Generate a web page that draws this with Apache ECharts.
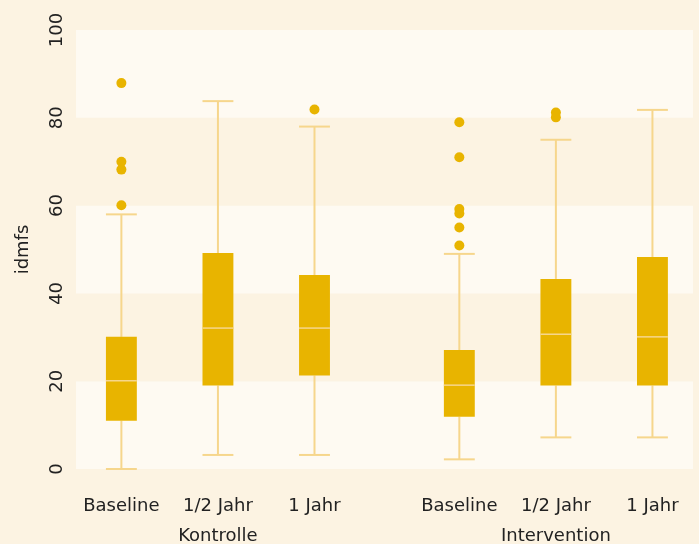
<html>
    <head>
        <meta charset="utf-8">
        <script src="https://cdn.jsdelivr.net/npm/echarts@6/dist/echarts.min.js" type="text/javascript" charset="utf-8"></script>
    </head>
    <body style="margin:0;background:#fcf3e2;">
        <style>
            .chart {
                width: 699px;
                height: 544px;
            }
        </style>

        <div id="main" class="chart"></div>
        <script>
            // x positions of the boxes (gap between the two groups)
            var positions = [1, 2, 3, 4.5, 5.5, 6.5];
            var timeLabels = ['Baseline', '1/2 Jahr', '1 Jahr', 'Baseline', '1/2 Jahr', '1 Jahr'];
            var groupPositions = [2, 5.5];
            var groupLabels = ['Kontrolle', 'Intervention'];

            // five-number summaries
            var lowWhisker = [0, 3.2, 3.2, 2.2, 7.2, 7.2];
            var q1 = [11.0, 19.0, 21.3, 11.9, 19.0, 19.0];
            var median = [20.1, 32.1, 32.1, 19.1, 30.7, 30.1];
            var q3 = [30.1, 49.2, 44.2, 27.1, 43.3, 48.3];
            var highWhisker = [58.0, 83.8, 78.0, 49.0, 75.0, 81.8];

            var outliers = [
                [1, 87.9], [1, 70.0], [1, 68.2], [1, 60.1],
                [3, 81.9],
                [4.5, 79.0], [4.5, 71.0], [4.5, 59.2], [4.5, 58.2], [4.5, 55.0], [4.5, 50.9],
                [5.5, 81.2], [5.5, 80.1]
            ];

            var yTicks = [0, 20, 40, 60, 80, 100];

            var BOX = '#e8b400';
            var LIGHT = '#f6d68c';
            var FONT = 'DejaVu Sans';

            var boxData = positions.map(function (p, i) {
                return [p, lowWhisker[i], q1[i], median[i], q3[i], highWhisker[i]];
            });

            function renderBox(params, api) {
                var x = api.value(0);
                var pMin = api.coord([x, api.value(1)]);
                var pQ1 = api.coord([x, api.value(2)]);
                var pMed = api.coord([x, api.value(3)]);
                var pQ3 = api.coord([x, api.value(4)]);
                var pMax = api.coord([x, api.value(5)]);
                var half = api.size([0.32, 0])[0] / 2;
                var cx = pMed[0];
                var line = { stroke: LIGHT, lineWidth: 2 };
                return {
                    type: 'group',
                    children: [
                        { type: 'line', shape: { x1: cx, y1: pMin[1], x2: cx, y2: pQ1[1] }, style: line },
                        { type: 'line', shape: { x1: cx, y1: pQ3[1], x2: cx, y2: pMax[1] }, style: line },
                        { type: 'line', shape: { x1: cx - half, y1: pMin[1], x2: cx + half, y2: pMin[1] }, style: line },
                        { type: 'line', shape: { x1: cx - half, y1: pMax[1], x2: cx + half, y2: pMax[1] }, style: line },
                        { type: 'rect', shape: { x: cx - half, y: pQ3[1], width: half * 2, height: pQ1[1] - pQ3[1] }, style: { fill: BOX } },
                        { type: 'line', shape: { x1: cx - half, y1: pMed[1], x2: cx + half, y2: pMed[1] }, style: { stroke: LIGHT, lineWidth: 1.5 } }
                    ]
                };
            }

            var chart = echarts.init(document.getElementById('main'));

            chart.setOption({
                animation: false,
                backgroundColor: '#fcf3e2',
                grid: { left: 76, right: 6, top: 30, bottom: 75, outerBoundsMode: 'none' },
                xAxis: [{
                    type: 'value',
                    min: 0.53,
                    max: 6.92,
                    axisLine: { show: false },
                    axisTick: { show: false },
                    splitLine: { show: false },
                    axisLabel: {
                        customValues: positions,
                        margin: 28,
                        fontFamily: FONT,
                        fontSize: 18,
                        color: '#222',
                        formatter: function (v) {
                            return timeLabels[positions.indexOf(v)];
                        }
                    }
                }, {
                    type: 'value',
                    position: 'bottom',
                    min: 0.53,
                    max: 6.92,
                    axisLine: { show: false },
                    axisTick: { show: false },
                    splitLine: { show: false },
                    axisLabel: {
                        customValues: groupPositions,
                        margin: 58,
                        fontFamily: FONT,
                        fontSize: 18,
                        color: '#222',
                        formatter: function (v) {
                            return groupLabels[groupPositions.indexOf(v)];
                        }
                    }
                }],
                yAxis: {
                    type: 'value',
                    min: yTicks[0],
                    max: yTicks[yTicks.length - 1],
                    interval: 20,
                    name: 'idmfs',
                    nameLocation: 'middle',
                    nameGap: 44,
                    nameTextStyle: { fontFamily: FONT, fontSize: 18, color: '#222' },
                    axisLine: { show: false },
                    axisTick: { show: false },
                    splitLine: { show: false },
                    splitArea: {
                        show: true,
                        areaStyle: { color: ['#fefaf2', '#fcf3e2'] }
                    },
                    axisLabel: {
                        rotate: 90,
                        margin: 10,
                        fontFamily: FONT,
                        fontSize: 18,
                        color: '#222'
                    }
                },
                series: [{
                    type: 'custom',
                    renderItem: renderBox,
                    encode: { x: 0, y: [1, 2, 3, 4, 5] },
                    data: boxData
                }, {
                    type: 'scatter',
                    symbolSize: 10,
                    itemStyle: { color: BOX, opacity: 1 },
                    data: outliers
                }]
            });
        </script>
    </body>
</html>
